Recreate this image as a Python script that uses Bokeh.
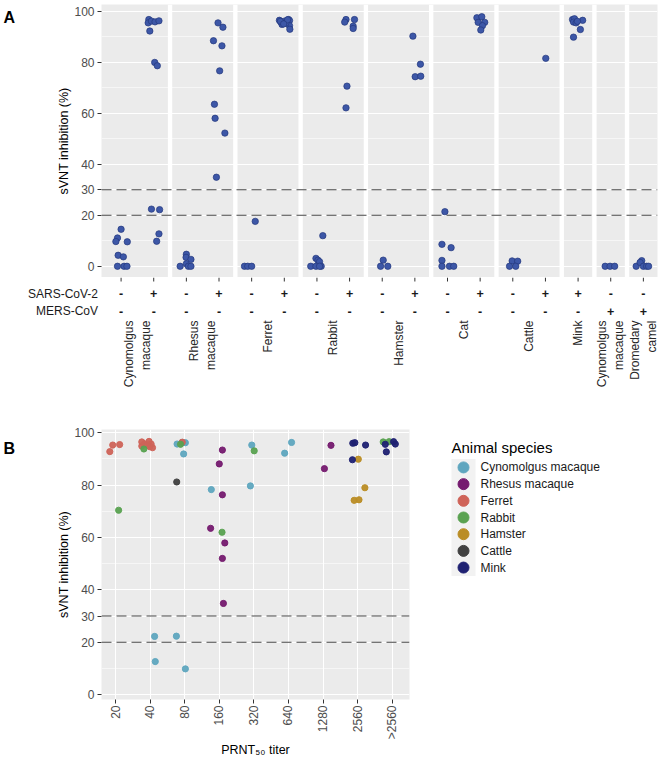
import math
from bokeh.plotting import figure
from bokeh.models import FixedTicker, Range1d, Span, ColumnDataSource
from bokeh.layouts import column, row
from bokeh.embed import file_html
from bokeh.resources import INLINE
from bokeh.core.properties import value

FONT = "Liberation Sans"

# ---------------- Panel A data ----------------
a_species = ["Cynomolgus\nmacaque", "Rhesus\nmacaque", "Ferret", "Rabbit", "Hamster",
             "Cat", "Cattle", "Mink", "Cynomolgus\nmacaque", "Dromedary\ncamel"]
a_cat_species = [0, 0, 1, 1, 2, 2, 3, 3, 4, 4, 5, 5, 6, 6, 7, 8, 9]
a_cat_sars = ["-", "+", "-", "+", "-", "+", "-", "+", "-", "+", "-", "+", "-", "+", "+", "-", "-"]
a_cat_mers = ["-", "-", "-", "-", "-", "-", "-", "-", "-", "-", "-", "-", "-", "-", "-", "+", "+"]
a_row_labels = ["SARS-CoV-2", "MERS-CoV"]

a_values = [
    [14.5, 11.1, 9.7, 9.6, 4.3, 3.7, 0, 0, 0],
    [96.7, 95.4, 96.1, 95.8, 96.2, 92.2, 79.9, 78.6, 22.4, 22.2, 12.7, 9.8],
    [4.7, 3.5, 2.7, 1.0, 0, 0, 0],
    [95.4, 93.7, 88.4, 86.4, 76.6, 63.5, 58.0, 52.2, 34.9],
    [17.6, 0, 0, 0],
    [96.4, 95.7, 94.8, 96.1, 96.7, 96.3, 94.3, 92.9, 96.0, 95.3, 96.6, 95.0],
    [12.0, 3.1, 2.4, 1.8, 0, 0, 0, 0],
    [96.7, 95.7, 96.7, 94.1, 93.2, 70.6, 62.1],
    [2.4, 0, 0],
    [90.2, 79.2, 74.3, 74.5],
    [21.4, 8.6, 7.3, 2.3, 0, 0, 0],
    [97.4, 97.8, 95.6, 95.6, 94.3, 92.6],
    [2.1, 2.0, 0, 0],
    [81.5],
    [96.7, 97.0, 95.7, 95.4, 96.4, 92.8, 89.8, 96.0],
    [0, 0, 0],
    [0, 2.2, 1.5, 0, 0, 0],
]
a_jitter = [
    [0.0, -0.11, -0.16, 0.19, -0.09, 0.07, -0.11, 0.09, 0.18],
    [-0.15, -0.17, -0.07, 0.04, 0.16, -0.12, 0.03, 0.11, -0.07, 0.18, 0.16, 0.09],
    [0.0, -0.01, 0.14, 0.0, -0.19, 0.06, 0.14],
    [-0.03, 0.12, -0.17, 0.09, 0.02, -0.14, -0.12, 0.18, -0.08],
    [0.11, -0.22, -0.12, 0.0],
    [-0.15, -0.10, -0.07, 0.01, 0.13, 0.16, 0.16, 0.17, -0.12, 0.05, 0.10, -0.02],
    [0.18, -0.03, 0.03, 0.08, -0.19, -0.03, 0.13, 0.08],
    [-0.11, -0.15, 0.15, 0.11, 0.11, -0.08, -0.11],
    [0.03, -0.05, 0.17],
    [-0.06, 0.17, 0.01, 0.18],
    [-0.08, -0.17, 0.11, -0.17, -0.17, 0.06, 0.19],
    [-0.10, 0.05, -0.06, 0.14, 0.07, 0.02],
    [-0.02, 0.15, -0.10, 0.09],
    [0.01],
    [-0.17, -0.11, -0.14, -0.06, 0.14, 0.07, -0.14, -0.02],
    [-0.17, -0.02, 0.12],
    [-0.22, -0.05, -0.10, 0.0, 0.10, 0.16],
]

# ---------------- Panel B data ----------------
b_titers = ["20", "40", "80", "160", "320", "640", "1280", "2560", ">2560"]
b_species = ["Cynomolgus macaque", "Rhesus macaque", "Ferret", "Rabbit", "Hamster", "Cattle", "Mink"]
b_colors = ["#5FA6BF", "#751A6F", "#CF6358", "#5AA251", "#BA8D25", "#414141", "#1F2172"]

b_pt_species = ([0] * 13 + [1] * 9 + [2] * 12 + [3] * 7 + [4] * 4 + [5] * 1 + [6] * 8)
b_pt_titer = [
    "80", "80", "80", "80", "160", "320", "320", "640", "640", "40", "80", "40", "80",
    "160", "160", "160", "160", "160", "160", "160", "1280", "1280",
    "20", "20", "20", "40", "40", "40", "40", "40", "40", "40", "40", "80",
    "20", "40", "80", "160", "320", ">2560", ">2560",
    "2560", "2560", "2560", "2560",
    "80",
    "2560", "2560", "2560", "2560", ">2560", ">2560", ">2560", ">2560",
]
b_pt_value = [
    95.7, 96.3, 96.2, 91.9, 78.3, 95.3, 79.7, 92.2, 96.3, 22.2, 22.3, 12.6, 9.8,
    93.4, 88.1, 76.3, 63.5, 57.9, 52.0, 34.8, 95.2, 86.3,
    92.8, 95.3, 95.5, 96.5, 94.9, 95.8, 96.7, 95.7, 94.3, 94.7, 95.3, 96.4,
    70.4, 93.8, 95.6, 62.0, 93.1, 96.5, 96.6,
    89.9, 79.0, 74.2, 74.4,
    81.2,
    96.0, 96.2, 95.3, 89.7, 95.6, 92.7, 96.6, 95.7,
]
b_pt_jitter = [
    -0.22, -0.07, 0.02, -0.03, -0.23, -0.06, -0.10, -0.11, 0.09, 0.13, -0.24, 0.15, 0.02,
    0.09, 0.0, 0.09, -0.25, 0.16, 0.09, 0.12, 0.23, 0.04,
    -0.165, -0.08, 0.12, -0.24, -0.24, -0.16, -0.03, 0.03, 0.07, -0.01, -0.08, -0.07,
    0.09, -0.18, -0.12, 0.08, 0.01, -0.26, -0.09,
    0.02, 0.21, -0.10, 0.04,
    -0.23,
    -0.14, -0.08, 0.23, -0.15, -0.20, -0.17, 0.04, 0.09,
]

y_ticks = [0, 20, 30, 40, 60, 80, 100]
y_minor = [10, 50, 70, 90]
thresholds = [20, 30]

PANEL_BG = "#EBEBEB"
TICK_COL = "#333333"
LAB_COL = "#4D4D4D"
TOTAL_W = 661


def new_fig(**kw):
    return figure(output_backend="svg", toolbar_location=None, outline_line_color=None,
                  border_fill_color="white", **kw)


def style_axes(p):
    for ax in p.axis:
        ax.axis_line_color = None
        ax.major_label_text_font = FONT
        ax.major_label_text_font_size = "12px"
        ax.major_label_text_color = LAB_COL
        ax.major_tick_line_color = TICK_COL
        ax.major_tick_in = 0
        ax.major_tick_out = 4
        ax.minor_tick_line_color = None
        ax.axis_label_text_font = FONT
        ax.axis_label_text_font_style = "normal"
        ax.axis_label_text_font_size = "12.5px"
        ax.axis_label_text_color = "#000000"
        ax.major_label_standoff = 3


def style_ygrid(p, ticker):
    p.yaxis.ticker = ticker
    p.ygrid.ticker = ticker
    p.ygrid.grid_line_color = "white"
    p.ygrid.grid_line_width = 1.1
    p.ygrid.minor_grid_line_color = "white"
    p.ygrid.minor_grid_line_width = 0.55


def corner_letter(letter, w, h, y_top):
    f = new_fig(width=w, height=h, x_range=Range1d(0, w), y_range=Range1d(h, 0), min_border=0,
                x_axis_type=None, y_axis_type=None, background_fill_color="white")
    f.grid.visible = False
    f.text(x=[3], y=[y_top], text=[letter], text_font=value(FONT), text_font_size=value("16px"),
           text_font_style="bold", text_baseline="top", text_align="left", text_color="black")
    return f


# ================= Panel A (scatter) =================
LEFT_W = 30            # strip holding the panel letter
FRAME_LEFT = 101       # page x of the panel frame
GAP = 0.134
n_cat = len(a_cat_species)
XA0, XA1 = -0.6, n_cat - 0.5 - GAP / 2
YA0, YA1 = -4.4, 102.6
FW_A, FH_A = 556, 273
u = FW_A / (XA1 - XA0)

pa = new_fig(frame_width=FW_A, frame_height=FH_A,
             min_border_left=FRAME_LEFT - LEFT_W, min_border_right=TOTAL_W - FRAME_LEFT - FW_A,
             min_border_top=4, min_border_bottom=0,
             x_range=Range1d(XA0, XA1), y_range=Range1d(YA0, YA1),
             x_axis_type=None, background_fill_color=PANEL_BG)
style_ygrid(pa, FixedTicker(ticks=y_ticks, minor_ticks=y_minor))
pa.yaxis.axis_label = "sVNT inhibition (%)"

gap_x = [k + 0.5 for k in range(n_cat - 1) if a_cat_species[k] != a_cat_species[k + 1]]
pa.quad(left=[g - GAP / 2 for g in gap_x], right=[g + GAP / 2 for g in gap_x],
        bottom=YA0, top=YA1, fill_color="white", line_color=None)
for t in thresholds:
    pa.add_layout(Span(location=t, dimension="width", line_color="#474747",
                       line_dash="10 5", line_width=1.1))

ax_x, ax_y = [], []
for k, (vals, jits) in enumerate(zip(a_values, a_jitter)):
    for v, j in zip(vals, jits):
        ax_x.append(k + j)
        ax_y.append(v)
pa.scatter(x=ax_x, y=ax_y, size=6.4, fill_color="#3D57A7", line_color="#24387C", line_width=0.7)
style_axes(pa)
pa.yaxis.axis_label_standoff = 0

fa0 = corner_letter("A", LEFT_W, FH_A + 4, 5)

# ---- strip under panel A: ticks, +/- rows and species axis ----
SH = 43
xs0 = XA0 - FRAME_LEFT / u
ps = new_fig(frame_width=TOTAL_W, frame_height=SH, min_border_left=0, min_border_right=0,
             min_border_top=0, min_border_bottom=95,
             x_range=Range1d(xs0, xs0 + TOTAL_W / u), y_range=Range1d(SH, 0),
             y_axis_type=None, background_fill_color="white")
ps.grid.visible = False
cats = list(range(n_cat))
ps.segment(x0=cats, x1=cats, y0=0, y1=4, line_color=TICK_COL, line_width=1)
row_y = [16.0, 33.7]
for ry, marks in zip(row_y, [a_cat_sars, a_cat_mers]):
    ps.text(x=cats, y=[ry] * n_cat, text=marks, text_font=value(FONT),
            text_font_size=value("12.5px"), text_font_style="bold", text_align="center",
            text_baseline="middle", text_color="#1A1A1A")
ps.text(x=[xs0 + 97.5 / u] * 2, y=row_y, text=a_row_labels, text_font=value(FONT),
        text_font_size=value("12px"), text_align="right", text_baseline="middle",
        text_color="#1A1A1A")

centers = []
for s in range(len(a_species)):
    ks = [k for k in range(n_cat) if a_cat_species[k] == s]
    c = sum(ks) / len(ks)
    centers.append(int(c) if float(c).is_integer() else c)
ps.xaxis.ticker = FixedTicker(ticks=centers)
ps.xaxis.major_label_overrides = {c: a_species[i] for i, c in enumerate(centers)}
style_axes(ps)
ps.xaxis.major_tick_line_color = None
ps.xaxis.major_tick_out = 0
ps.xaxis.major_label_orientation = math.pi / 2
ps.xaxis.major_label_text_color = "#262626"
ps.xaxis.major_label_text_line_height = 1.25
ps.xaxis.major_label_standoff = 0

# ================= Panel B =================
XB0, XB1 = 0.595, 9.5
YB0, YB1 = -1.9, 101.25
FW_B, FH_B = 308, 270
pb = new_fig(frame_width=FW_B, frame_height=FH_B,
             min_border_left=FRAME_LEFT - LEFT_W, min_border_right=8, min_border_top=14,
             min_border_bottom=0,
             x_range=Range1d(XB0, XB1), y_range=Range1d(YB0, YB1), background_fill_color=PANEL_BG)
xt = FixedTicker(ticks=list(range(1, len(b_titers) + 1)))
pb.xaxis.ticker = xt
pb.xgrid.ticker = xt
pb.xgrid.grid_line_color = "white"
pb.xgrid.grid_line_width = 1.1
pb.xaxis.major_label_overrides = {i + 1: t for i, t in enumerate(b_titers)}
style_ygrid(pb, FixedTicker(ticks=y_ticks, minor_ticks=y_minor))
pb.yaxis.axis_label = "sVNT inhibition (%)"
pb.xaxis.axis_label = "PRNT\u2085\u2080 titer"
for t in thresholds:
    pb.add_layout(Span(location=t, dimension="width", line_color="#474747",
                       line_dash="10 5", line_width=1.1))

src_b = ColumnDataSource(dict(
    x=[b_titers.index(t) + 1 + j for t, j in zip(b_pt_titer, b_pt_jitter)],
    y=b_pt_value,
    c=[b_colors[s] for s in b_pt_species],
))
pb.scatter(x="x", y="y", color="c", size=6.2, alpha=0.95, source=src_b)
style_axes(pb)
pb.xaxis.major_label_orientation = math.pi / 2
pb.xaxis.major_label_standoff = 2
pb.xaxis.axis_label_standoff = 1
pb.yaxis.axis_label_standoff = 0

fb0 = corner_letter("B", LEFT_W, 339, 13)

# ================= Legend =================
LW = TOTAL_W - LEFT_W - (FRAME_LEFT - LEFT_W) - FW_B - 8
LH = 339
pl = new_fig(width=LW, height=LH, x_range=Range1d(0, LW), y_range=Range1d(LH, 0),
             min_border=0, x_axis_type=None, y_axis_type=None, background_fill_color="white")
pl.grid.visible = False
KEY_L, KEY_W, KEY_T, ROW_H = 34, 24, 38, 21.43
n_sp = len(b_species)
rows_y = [KEY_T + ROW_H * (i + 0.5) for i in range(n_sp)]
pl.quad(left=KEY_L, right=KEY_L + KEY_W, top=KEY_T, bottom=KEY_T + ROW_H * n_sp,
        fill_color="#F2F2F2", line_color=None)
pl.scatter(x=[KEY_L + KEY_W / 2] * n_sp, y=rows_y, size=11, color=b_colors)
pl.text(x=[KEY_L + KEY_W + 5] * n_sp, y=rows_y, text=b_species, text_font=value(FONT),
        text_font_size=value("12px"), text_baseline="middle", text_align="left",
        text_color="#1A1A1A")
pl.text(x=[KEY_L], y=[23], text=["Animal species"], text_font=value(FONT),
        text_font_size=value("15px"), text_baseline="middle", text_align="left",
        text_color="black")

layout = column(row(fa0, pa), ps, row(fb0, pb, pl))
open("out.html", "w").write(file_html(layout, INLINE))
